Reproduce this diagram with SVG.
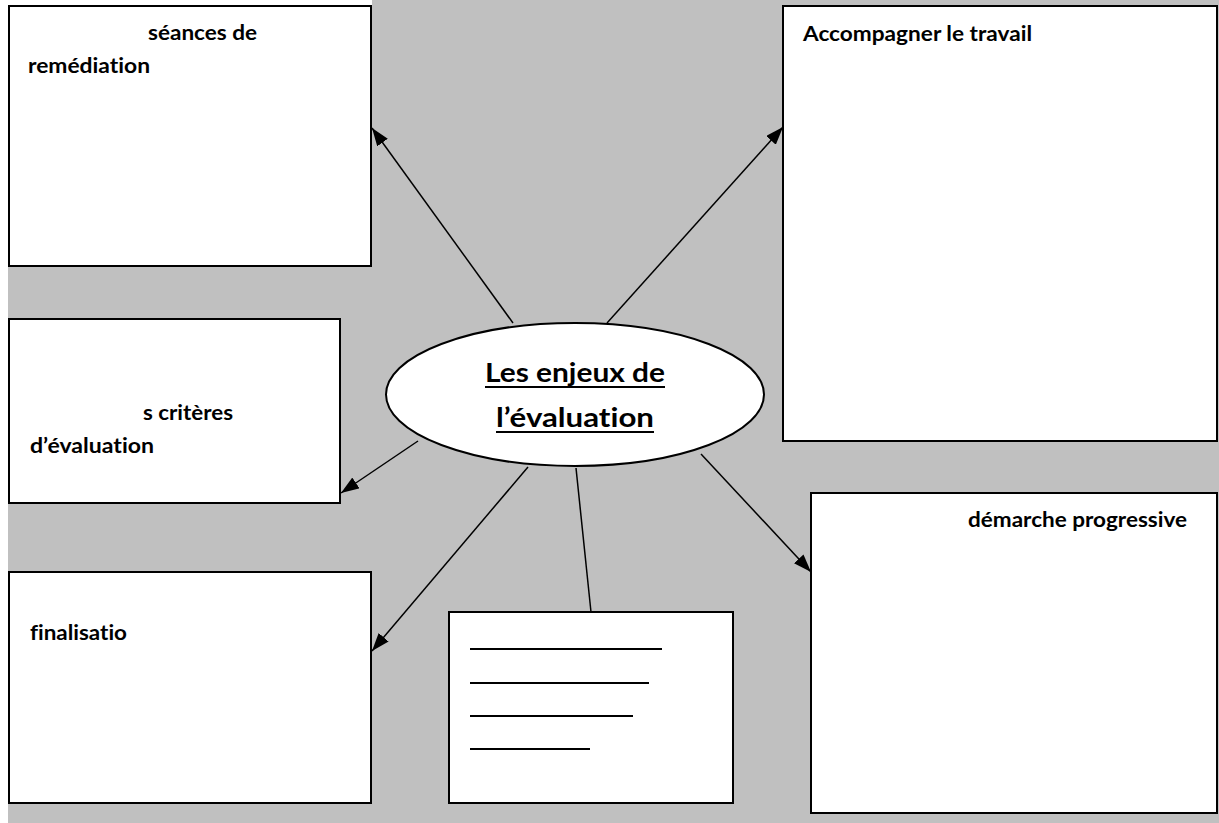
<svg xmlns="http://www.w3.org/2000/svg" width="1219" height="823" viewBox="0 0 1219 823">
<style>
.box{fill:#fff;stroke:#000;stroke-width:2}
.lbl{font-family:Lato,"Liberation Sans",sans-serif;font-weight:bold;font-size:21px;fill:#000;font-variant-ligatures:none}
.ctr{font-family:Lato,"Liberation Sans",sans-serif;font-weight:bold;font-size:27px;fill:#000;font-variant-ligatures:none}
.con{stroke:#000;stroke-width:1.5;fill:none}
.rule{stroke:#000;stroke-width:2}
</style>
<defs>
<marker id="arr" markerUnits="userSpaceOnUse" markerWidth="18" markerHeight="13" refX="18" refY="6.5" orient="auto" viewBox="0 0 18 13">
<path d="M0,0 L18,6.5 L0,13 z" fill="#000"/>
</marker>
</defs>
<rect x="0" y="0" width="1219" height="823" fill="#fff"/>
<path d="M8,6 H372 V0 H1219 V823 H8 Z" fill="#c0c0c0"/>
<g id="connectors">
<line class="con" x1="513" y1="323" x2="372" y2="128" marker-end="url(#arr)"/>
<line class="con" x1="607" y1="323" x2="783" y2="127" marker-end="url(#arr)"/>
<line class="con" x1="418" y1="441" x2="341" y2="493" marker-end="url(#arr)"/>
<line class="con" x1="528" y1="467" x2="372" y2="651" marker-end="url(#arr)"/>
<line class="con" x1="576" y1="468" x2="591" y2="612"/>
<line class="con" x1="701" y1="454" x2="811" y2="572" marker-end="url(#arr)"/>
</g>
<g id="n-remediation">
<rect class="box" x="9" y="6" width="362" height="260"/>
<text class="lbl" x="148" y="40" textLength="109" lengthAdjust="spacingAndGlyphs">séances de</text>
<text class="lbl" x="28" y="73" textLength="122" lengthAdjust="spacingAndGlyphs">remédiation</text>
</g>
<g id="n-accompagner">
<rect class="box" x="783" y="6" width="434" height="435"/>
<text class="lbl" x="803" y="41" textLength="229" lengthAdjust="spacingAndGlyphs">Accompagner le travail</text>
</g>
<g id="n-criteres">
<rect class="box" x="9" y="319" width="331" height="184"/>
<text class="lbl" x="143" y="420" textLength="90" lengthAdjust="spacingAndGlyphs">s critères</text>
<text class="lbl" x="30" y="453" textLength="124" lengthAdjust="spacingAndGlyphs">d’évaluation</text>
</g>
<g id="n-finalisation">
<rect class="box" x="9" y="572" width="362" height="231"/>
<text class="lbl" x="30" y="640" textLength="97" lengthAdjust="spacingAndGlyphs">finalisatio</text>
</g>
<g id="n-blank">
<rect class="box" x="449" y="612" width="284" height="191"/>
<line class="rule" x1="470" y1="649" x2="662" y2="649"/>
<line class="rule" x1="470" y1="683" x2="649" y2="683"/>
<line class="rule" x1="470" y1="716" x2="633" y2="716"/>
<line class="rule" x1="470" y1="749" x2="590" y2="749"/>
</g>
<g id="n-demarche">
<rect class="box" x="811" y="493" width="406" height="320"/>
<text class="lbl" x="968" y="527" textLength="219" lengthAdjust="spacingAndGlyphs">démarche progressive</text>
</g>
<g id="n-center">
<ellipse cx="575" cy="394.5" rx="189" ry="71.5" fill="#fff" stroke="#000" stroke-width="2"/>
<text class="ctr" x="485" y="382" textLength="180" lengthAdjust="spacingAndGlyphs">Les enjeux de</text>
<line class="rule" x1="485" y1="387" x2="665" y2="387"/>
<text class="ctr" x="496" y="427" textLength="158" lengthAdjust="spacingAndGlyphs">l’évaluation</text>
<line class="rule" x1="496" y1="432" x2="654" y2="432"/>
</g>
</svg>
